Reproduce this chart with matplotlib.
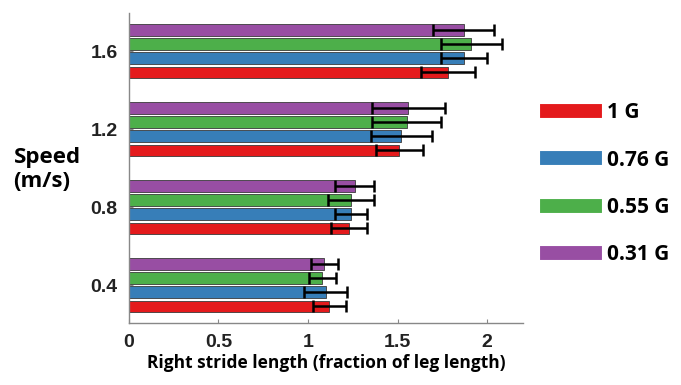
import matplotlib
matplotlib.use('Agg')
import matplotlib.pyplot as plt
from matplotlib.lines import Line2D
import numpy as np

speeds = [0.4, 0.8, 1.2, 1.6]
gravity_labels = ['1 G', '0.76 G', '0.55 G', '0.31 G']
colors = ['#e41a1c', '#377eb8', '#4daf4a', '#984ea3']

# mean right stride length per gravity level, one value per speed
stride_1g = [1.12, 1.23, 1.51, 1.78]
stride_076 = [1.10, 1.24, 1.52, 1.87]
stride_055 = [1.08, 1.24, 1.55, 1.91]
stride_031 = [1.09, 1.26, 1.56, 1.87]

err_1g = [0.09, 0.10, 0.13, 0.15]
err_076 = [0.12, 0.09, 0.17, 0.13]
err_055 = [0.075, 0.13, 0.19, 0.17]
err_031 = [0.075, 0.11, 0.205, 0.17]

means = [stride_1g, stride_076, stride_055, stride_031]
errs = [err_1g, err_076, err_055, err_031]

fig = plt.figure(figsize=(6.81, 3.85), dpi=100)
ax = fig.add_axes([0.189, 0.161, 0.579, 0.805])

pitch = 0.073
height = 0.06
y = np.array(speeds)
for i in range(4):
    off = (i - 1.5) * pitch
    ax.barh(y + off, means[i], height=height, color=colors[i],
            edgecolor='#3a3a3a', linewidth=0.6, zorder=2)
    ax.errorbar(means[i], y + off, xerr=errs[i], fmt='none', ecolor='black',
                elinewidth=1.8, capsize=4.5, capthick=1.8, zorder=3)

ax.set_xlim(0, 2.2)
ax.set_ylim(0.205, 1.795)
ax.set_xticks([0, 0.5, 1, 1.5, 2])
ax.set_xticklabels(['0', '0.5', '1', '1.5', '2'])
ax.set_yticks(speeds)
ax.set_yticklabels(['0.4', '0.8', '1.2', '1.6'])
ax.tick_params(direction='in', length=3, color='#888888', width=0.8,
               labelsize=14, pad=8)
for lab in ax.get_xticklabels() + ax.get_yticklabels():
    lab.set_fontweight('bold')
    lab.set_family('Liberation Sans')
    lab.set_color('#222222')

for s in ['top', 'right']:
    ax.spines[s].set_visible(False)
for s in ['left', 'bottom']:
    ax.spines[s].set_color('#888888')
    ax.spines[s].set_linewidth(1.0)

ax.set_xlabel('Right stride length (fraction of leg length)', fontsize=12.5,
              fontweight='bold', family='Open Sans', labelpad=2)
fig.text(0.02, 0.56, 'Speed\n(m/s)', fontsize=16, fontweight='bold',
         family='Open Sans', ha='left', va='center', linespacing=1.15)

handles = [Line2D([0], [0], color=c, linewidth=10) for c in colors]
fig.legend(handles, gravity_labels, loc='upper left',
           bbox_to_anchor=(0.775, 0.783), frameon=False,
           prop={'family': 'Open Sans', 'weight': 'bold', 'size': 15},
           handlelength=2.35, handletextpad=0.55, labelspacing=1.26)

fig.savefig('out.png', dpi=100)
